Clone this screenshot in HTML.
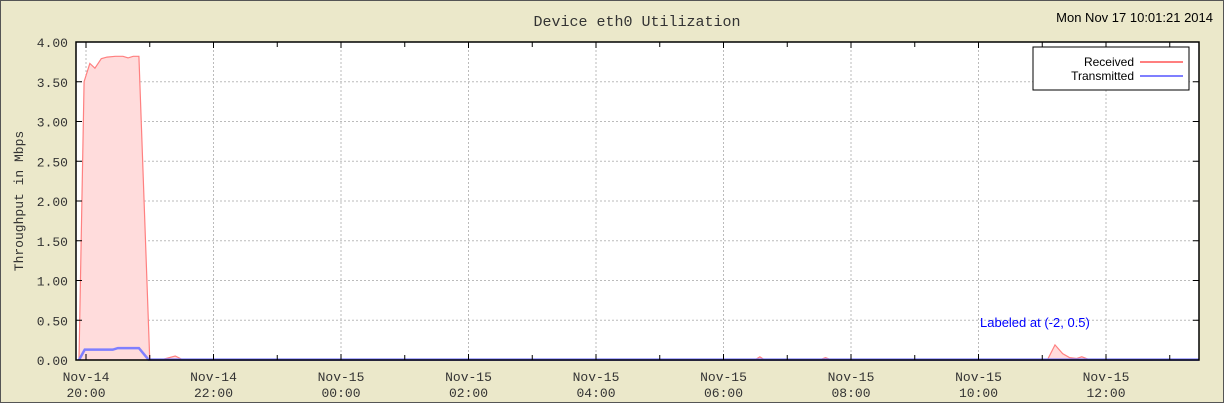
<!DOCTYPE html>
<html><head><meta charset="utf-8"><style>
body{margin:0;background:#ebe8ca;}
svg{display:block;font-family:"Liberation Mono",monospace;}
</style></head><body>
<svg id="chart" width="1224" height="403">
<rect x="0.5" y="0.5" width="1223" height="402" fill="#ebe8ca" stroke="#555"/>
<text x="637" y="26" text-anchor="middle" font-size="15" fill="#333">Device eth0 Utilization</text>
<text x="1213" y="22" text-anchor="end" font-size="13" font-family="Liberation Sans, sans-serif" fill="#000">Mon Nov 17 10:01:21 2014</text>
<rect x="76" y="42" width="1123" height="318" fill="#fff"/>
<g id="grid"></g>
<g id="series"></g>
<rect x="76" y="42" width="1123" height="318" fill="none" stroke="#000" stroke-width="1.5"/>
<g id="axes"></g>
<text transform="translate(23,201) rotate(-90)" text-anchor="middle" font-size="13" fill="#333">Throughput in Mbps</text>
<text x="980" y="327" font-size="13" font-family="Liberation Sans, sans-serif" fill="#00f">Labeled at (-2, 0.5)</text>
<g>
<rect x="1033" y="47" width="156" height="43" fill="#fff" stroke="#000"/>
<text x="1134" y="66" text-anchor="end" font-size="12" font-family="Liberation Sans, sans-serif">Received</text>
<line x1="1140" y1="62" x2="1183" y2="62" stroke="#ff7f7f" stroke-width="2"/>
<text x="1134" y="80" text-anchor="end" font-size="12" font-family="Liberation Sans, sans-serif">Transmitted</text>
<line x1="1140" y1="76" x2="1183" y2="76" stroke="#7f7fff" stroke-width="2"/>
</g>
</svg>
<script>
const yTicks=[0,0.5,1,1.5,2,2.5,3,3.5,4];
const xTickHours=[0,2,4,6,8,10,12,14,16];
const xTickDates=["Nov-14","Nov-14","Nov-15","Nov-15","Nov-15","Nov-15","Nov-15","Nov-15","Nov-15"];
const xTickTimes=["20:00","22:00","00:00","02:00","04:00","06:00","08:00","10:00","12:00"];
const rxHours=[-0.11,-0.03,0.06,0.14,0.24,0.33,0.46,0.58,0.66,0.74,0.83,1.0,1.17,1.4,1.5,1.6,10.49,10.57,10.65,11.5,11.6,11.7,15.08,15.2,15.32,15.43,15.54,15.62,15.72,15.9,16.73,16.85,17.46];
const rxVals=[0,3.5,3.73,3.67,3.79,3.81,3.82,3.82,3.80,3.82,3.82,0.0,0.0,0.05,0.01,0.0,0.0,0.04,0.0,0.0,0.03,0.0,0.0,0.19,0.08,0.03,0.02,0.04,0.01,0.0,0.0,0.01,0.0];
const txHours=[-0.11,-0.02,0.42,0.5,0.83,0.98,1.2,17.46];
const txVals=[0,0.13,0.13,0.15,0.15,0.005,0.005,0.005];
const X=h=>86+h*63.75, Y=v=>360-v*79.5;
const NS="http://www.w3.org/2000/svg";
function mk(p,t,a){const e=document.createElementNS(NS,t);for(const k in a)e.setAttribute(k,a[k]);p.appendChild(e);return e;}
const grid=document.getElementById('grid'),axes=document.getElementById('axes'),ser=document.getElementById('series');
yTicks.forEach(v=>{
 if(v>0&&v<4){const g=mk(grid,'line',{x1:76,x2:1199,y1:Y(v),y2:Y(v),stroke:'#bbb','stroke-dasharray':'2,2'});
 }
 const t=mk(axes,'line',{x1:76,x2:82,y1:Y(v),y2:Y(v),stroke:'#000'});
 
 const t2=mk(axes,'line',{x1:1193,x2:1199,y1:Y(v),y2:Y(v),stroke:'#000'});
 
 const l=mk(axes,'text',{x:68,y:Y(v)+5,'text-anchor':'end','font-size':13,fill:'#333'});l.textContent=v.toFixed(2);
 
});
xTickHours.forEach((h,i)=>{
 const g=mk(grid,'line',{x1:X(h),x2:X(h),y1:42,y2:360,stroke:'#bbb','stroke-dasharray':'2,2'});
 
 [[X(h),360,354],[X(h),42,48],[X(h+1),360,355],[X(h+1),42,47]].forEach(a=>{
  if(a[0]>1199)return;const t=mk(axes,'line',{x1:a[0],x2:a[0],y1:a[1],y2:a[2],stroke:'#000'});
  });
 const l=mk(axes,'text',{x:X(h),y:381,'text-anchor':'middle','font-size':13,fill:'#333'});l.textContent=xTickDates[i];
 
 const l2=mk(axes,'text',{x:X(h),y:397,'text-anchor':'middle','font-size':13,fill:'#333'});l2.textContent=xTickTimes[i];
 
});
function pts(hs,vs){return hs.map((h,i)=>X(h)+','+Y(vs[i])).join(' ');}
const rp=pts(rxHours,rxVals);
const area=mk(ser,'polygon',{points:X(rxHours[0])+','+Y(0)+' '+rp+' '+X(rxHours[rxHours.length-1])+','+Y(0),fill:'#ffdcdc'});

const rl=mk(ser,'polyline',{points:rp,fill:'none',stroke:'#ff8080','stroke-width':1.2});

const tl=mk(ser,'polyline',{points:pts(txHours,txVals),fill:'none',stroke:'#7f7fff','stroke-width':2.5});

</script>
</body></html>
